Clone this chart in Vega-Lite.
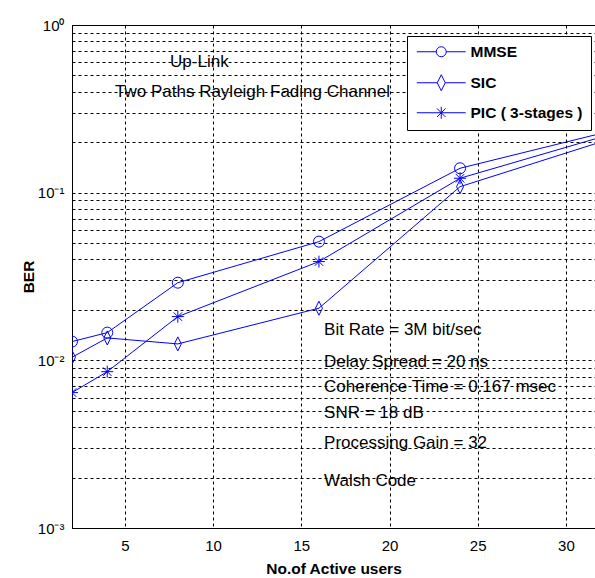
{
  "$schema": "https://vega.github.io/schema/vega-lite/v6.json",
  "width": 523,
  "height": 503,
  "autosize": {"type": "none"},
  "padding": {"left": 72, "top": 25, "right": 0, "bottom": 50},
  "background": "white",
  "config": {
    "view": {"stroke": "black", "strokeWidth": 1},
    "font": "Liberation Sans",
    "axis": {
      "domainColor": "black",
      "domainWidth": 1,
      "gridColor": "black",
      "gridOpacity": 1,
      "gridWidth": 1,
      "gridDash": [3, 3],
      "ticks": false,
      "labelColor": "black",
      "labelFont": "Liberation Sans",
      "labelFontSize": 15,
      "titleColor": "black",
      "titleFont": "Liberation Sans",
      "titleFontSize": 15.5,
      "titleFontWeight": "bold"
    }
  },
  "datasets": {
    "ber": [
      {"users": 2, "ber": 0.01294, "method": "MMSE"},
      {"users": 4, "ber": 0.01463, "method": "MMSE"},
      {"users": 8, "ber": 0.02905, "method": "MMSE"},
      {"users": 16, "ber": 0.05104, "method": "MMSE"},
      {"users": 24, "ber": 0.1398, "method": "MMSE"},
      {"users": 32, "ber": 0.2258, "method": "MMSE"},
      {"users": 2, "ber": 0.01043, "method": "SIC"},
      {"users": 4, "ber": 0.0136, "method": "SIC"},
      {"users": 8, "ber": 0.01253, "method": "SIC"},
      {"users": 16, "ber": 0.02046, "method": "SIC"},
      {"users": 24, "ber": 0.1086, "method": "SIC"},
      {"users": 32, "ber": 0.2009, "method": "SIC"},
      {"users": 2, "ber": 0.00642, "method": "PIC ( 3-stages )"},
      {"users": 4, "ber": 0.00856, "method": "PIC ( 3-stages )"},
      {"users": 8, "ber": 0.01823, "method": "PIC ( 3-stages )"},
      {"users": 16, "ber": 0.0388, "method": "PIC ( 3-stages )"},
      {"users": 24, "ber": 0.1219, "method": "PIC ( 3-stages )"},
      {"users": 32, "ber": 0.2146, "method": "PIC ( 3-stages )"}
    ],
    "notes": [
      {"x": 7.56, "y": 0.602, "label": "Up-Link"},
      {"x": 4.44, "y": 0.3986, "label": "Two Paths Rayleigh Fading Channel"},
      {"x": 16.29, "y": 0.01518, "label": "Bit Rate = 3M bit/sec"},
      {"x": 16.29, "y": 0.009824, "label": "Delay Spread = 20 ns"},
      {"x": 16.29, "y": 0.00691, "label": "Coherence Time = 0.167 msec"},
      {"x": 16.29, "y": 0.004836, "label": "SNR = 18 dB"},
      {"x": 16.29, "y": 0.003202, "label": "Processing Gain = 32"},
      {"x": 16.29, "y": 0.00191, "label": "Walsh Code"}
    ]
  },
  "resolve": {"scale": {"shape": "independent"}},
  "layer": [
    {
      "data": {"name": "notes"},
      "mark": {"type": "text", "align": "left", "baseline": "middle", "fontSize": 17, "color": "black", "font": "Liberation Sans"},
      "encoding": {
        "x": {"field": "x", "type": "quantitative", "scale": {"domain": [2, 31.65], "nice": false, "zero": false},
          "axis": {"values": [5, 10, 15, 20, 25, 30], "title": "No.of Active users", "labelPadding": 10, "titleY": 40, "titleBaseline": "middle", "labelFlush": false}},
        "y": {"field": "y", "type": "quantitative", "scale": {"type": "log", "domain": [0.001, 1], "nice": false},
          "axis": {"values": [0.001,0.002,0.003,0.004,0.005,0.006,0.007,0.008,0.009,0.01,0.02,0.03,0.04,0.05,0.06,0.07,0.08,0.09,0.1,0.2,0.3,0.4,0.5,0.6,0.7,0.8,0.9,1],
            "labelExpr": "datum.value == 1 ? '10⁰' : datum.value == 0.1 ? '10⁻¹' : datum.value == 0.01 ? '10⁻²' : datum.value == 0.001 ? '10⁻³' : ''",
            "title": "BER", "titleX": -44, "titleBaseline": "middle", "labelPadding": 8, "labelFlush": false, "labelOverlap": false}},
        "text": {"field": "label"}
      }
    },
    {
      "data": {"name": "ber"},
      "mark": {"type": "line", "color": "#0000ff", "strokeWidth": 1, "clip": true},
      "encoding": {
        "x": {"field": "users", "type": "quantitative"},
        "y": {"field": "ber", "type": "quantitative"},
        "detail": {"field": "method"}
      }
    },
    {
      "data": {"name": "ber"},
      "mark": {"type": "point", "filled": false, "color": "#0000ff", "strokeWidth": 1, "size": 196, "opacity": 1, "clip": true},
      "encoding": {
        "x": {"field": "users", "type": "quantitative"},
        "y": {"field": "ber", "type": "quantitative"},
        "shape": {"field": "method", "type": "nominal", "legend": null,
          "scale": {"domain": ["MMSE", "SIC", "PIC ( 3-stages )"],
            "range": ["M-0.786,0A0.786,0.786,0,1,1,0.786,0A0.786,0.786,0,1,1,-0.786,0", "M0,-1L0.5,0L0,1L-0.5,0Z", "M-0.857,0L0.857,0M0,-0.857L0,0.857M-0.606,-0.606L0.606,0.606M-0.606,0.606L0.606,-0.606"]}
        }
      }
    },
    {
      "data": {"name": "ber"},
      "mark": {"type": "point", "filled": false, "color": "#0000ff", "strokeWidth": 1, "size": 144, "opacity": 0, "clip": true},
      "encoding": {
        "x": {"field": "users", "type": "quantitative"},
        "y": {"field": "ber", "type": "quantitative"},
        "shape": {"field": "method", "type": "nominal",
          "scale": {"domain": ["MMSE", "SIC", "PIC ( 3-stages )"],
            "range": ["M-4.08,0L-0.833,0M0.833,0L4.08,0M-0.833,0A0.833,0.833,0,1,1,0.833,0A0.833,0.833,0,1,1,-0.833,0", "M-4.08,0L-0.667,0M0.667,0L4.08,0M0,-1.333L0.667,0L0,1.333L-0.667,0Z", "M-4.08,0L4.08,0M0,-1L0,1M-0.707,-0.707L0.707,0.707M-0.707,0.707L0.707,-0.707"]},
          "legend": {
            "orient": "none", "legendX": 335, "legendY": 11, "title": null,
            "fillColor": "white", "strokeColor": "black", "padding": 8,
            "symbolSize": 144, "symbolOffset": 18.5, "labelOffset": 21.5,
            "symbolOpacity": 1, "symbolStrokeColor": "#0000ff", "symbolStrokeWidth": 1, "symbolFillColor": "transparent",
            "rowPadding": 11,
            "labelFont": "Liberation Sans",
            "labelFontSize": 15.5, "labelFontWeight": "bold", "labelColor": "black",
            "labelExpr": "datum.label == 'MMSE' ? '\u00a0MMSE' : datum.label",
            "encode": {"symbols": {"update": {"opacity": {"value": 1}}}}
          }
        }
      }
    }
  ]
}
